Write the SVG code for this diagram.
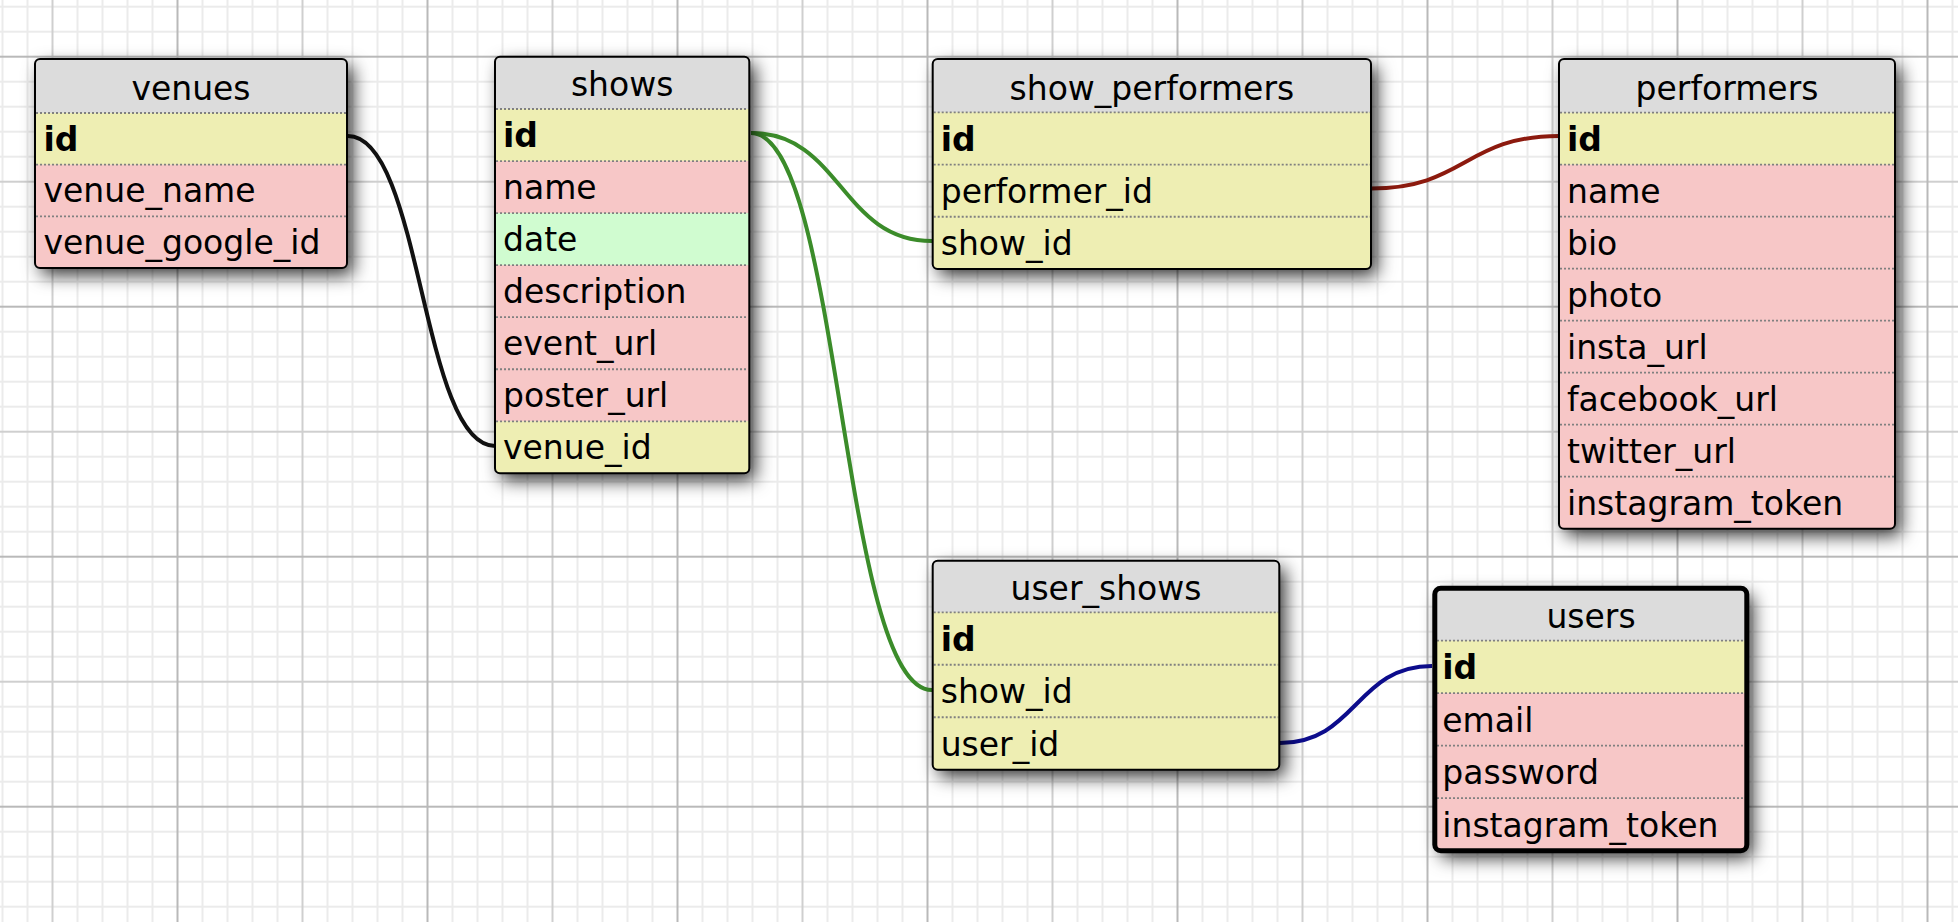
<svg xmlns="http://www.w3.org/2000/svg" width="1958" height="922" viewBox="0 0 1958 922">
<defs>
<pattern id="grid" patternUnits="userSpaceOnUse" x="176.5" y="55.7" width="250" height="250">
<g fill="#ebebeb">
<rect x="25" y="0" width="2" height="250"/><rect x="50" y="0" width="2" height="250"/><rect x="75" y="0" width="2" height="250"/><rect x="100" y="0" width="2" height="250"/><rect x="150" y="0" width="2" height="250"/><rect x="175" y="0" width="2" height="250"/><rect x="200" y="0" width="2" height="250"/><rect x="225" y="0" width="2" height="250"/>
<rect y="25" x="0" height="2" width="250"/><rect y="50" x="0" height="2" width="250"/><rect y="75" x="0" height="2" width="250"/><rect y="100" x="0" height="2" width="250"/><rect y="150" x="0" height="2" width="250"/><rect y="175" x="0" height="2" width="250"/><rect y="200" x="0" height="2" width="250"/><rect y="225" x="0" height="2" width="250"/>
</g>
<g fill="#cfcfcf"><rect x="125" y="0" width="2" height="250"/><rect y="125" x="0" height="2" width="250"/></g>
<g fill="#b9b9b9"><rect x="0" y="0" width="2" height="250"/><rect y="0" x="0" height="2" width="250"/></g>
</pattern>
<filter id="shadow" x="-10%" y="-10%" width="140%" height="140%">
<feDropShadow dx="6" dy="7" stdDeviation="9" flood-color="#000" flood-opacity="0.8"/>
</filter>
<clipPath id="c-venues"><rect x="35" y="59" width="312" height="209.1" rx="5"/></clipPath>
<clipPath id="c-shows"><rect x="495" y="56.7" width="254.3" height="416.65" rx="5"/></clipPath>
<clipPath id="c-sp"><rect x="932.7" y="59" width="438.3" height="210" rx="5"/></clipPath>
<clipPath id="c-perf"><rect x="1559" y="59" width="336" height="469.7" rx="5"/></clipPath>
<clipPath id="c-us"><rect x="932.7" y="560.7" width="346.6" height="209" rx="5"/></clipPath>
<clipPath id="c-users"><rect x="1434.8" y="588.2" width="312" height="262.6" rx="6"/></clipPath>
</defs>
<style>
.bg{fill:#ffffff}
.pk{fill:#eeeeb3}
.tx{fill:#f7c7c7}
.dt{fill:#d0fcd0}
.sep{stroke:#808080;stroke-width:1.8;stroke-dasharray:2 2;fill:none}
.frame{fill:none;stroke:#000;stroke-width:2}
.frame2{fill:none;stroke:#000;stroke-width:5}
.base{fill:#dcdcdc;filter:url(#shadow)}
text{font-family:"DejaVu Sans","Verdana",sans-serif;font-size:33px;fill:#000}
.title{text-anchor:middle}
.b{font-weight:bold}
.link{fill:none;stroke-width:4}
</style>
<rect class="bg" x="0" y="0" width="1958" height="922"/>
<rect x="0" y="0" width="1958" height="922" fill="url(#grid)"/>

<g id="connectors">
<path class="link" stroke="#111111" d="M348,136 C421.5,136 421.5,446 495,446"/>
<path class="link" stroke="#3b8c2a" d="M751,133 C841,133 841,241 932,241"/>
<path class="link" stroke="#3b8c2a" d="M751,133 C841,133 841,690 932,690"/>
<path class="link" stroke="#8c1a0e" d="M1371,188.5 C1465,188.5 1465,136 1559,136"/>
<path class="link" stroke="#0c0c8c" d="M1280,743 C1356,743 1356,666 1432,666"/>
</g>

<g id="venues">
<rect class="base" x="35" y="59" width="312" height="209.1" rx="5"/>
<g clip-path="url(#c-venues)">
<rect class="pk" x="35" y="113" width="312" height="51.7"/>
<rect class="tx" x="35" y="164.7" width="312" height="103.4"/>
</g>
<path class="sep" d="M36,113H346M36,164.7H346M36,216.4H346"/>
<rect class="frame" x="35" y="59" width="312" height="209.1" rx="5"/>
<text class="title" x="191" y="99.5">venues</text>
<text class="b" x="43.5" y="150.7">id</text>
<text x="43.5" y="202.4">venue_name</text>
<text x="43.5" y="254.1">venue_google_id</text>
</g>

<g id="shows">
<rect class="base" x="495" y="56.7" width="254.3" height="416.65" rx="5"/>
<g clip-path="url(#c-shows)">
<rect class="pk" x="495" y="109" width="254.3" height="52.05"/>
<rect class="tx" x="495" y="161.05" width="254.3" height="52.05"/>
<rect class="dt" x="495" y="213.1" width="254.3" height="52.05"/>
<rect class="tx" x="495" y="265.15" width="254.3" height="156.15"/>
<rect class="pk" x="495" y="421.3" width="254.3" height="52.05"/>
</g>
<path class="sep" d="M496,109H748M496,161.05H748M496,213.1H748M496,265.15H748M496,317.2H748M496,369.25H748M496,421.3H748"/>
<rect class="frame" x="495" y="56.7" width="254.3" height="416.65" rx="5"/>
<text class="title" x="622.15" y="95.5">shows</text>
<text class="b" x="503" y="147.05">id</text>
<text x="503" y="199.1">name</text>
<text x="503" y="251.15">date</text>
<text x="503" y="303.2">description</text>
<text x="503" y="355.25">event_url</text>
<text x="503" y="407.3">poster_url</text>
<text x="503" y="459.35">venue_id</text>
</g>

<g id="show_performers">
<rect class="base" x="932.7" y="59" width="438.3" height="210" rx="5"/>
<g clip-path="url(#c-sp)">
<rect class="pk" x="932.7" y="112.3" width="438.3" height="156.7"/>
</g>
<path class="sep" d="M933.7,112.3H1370M933.7,164.53H1370M933.7,216.77H1370"/>
<rect class="frame" x="932.7" y="59" width="438.3" height="210" rx="5"/>
<text class="title" x="1151.85" y="99.8">show_performers</text>
<text class="b" x="940.7" y="150.5">id</text>
<text x="940.7" y="202.8">performer_id</text>
<text x="940.7" y="255">show_id</text>
</g>

<g id="performers">
<rect class="base" x="1559" y="59" width="336" height="469.7" rx="5"/>
<g clip-path="url(#c-perf)">
<rect class="pk" x="1559" y="112.7" width="336" height="52"/>
<rect class="tx" x="1559" y="164.7" width="336" height="364"/>
</g>
<path class="sep" d="M1560,112.7H1894M1560,164.7H1894M1560,216.7H1894M1560,268.7H1894M1560,320.7H1894M1560,372.7H1894M1560,424.7H1894M1560,476.7H1894"/>
<rect class="frame" x="1559" y="59" width="336" height="469.7" rx="5"/>
<text class="title" x="1727" y="100.2">performers</text>
<text class="b" x="1567" y="150.7">id</text>
<text x="1567" y="202.7">name</text>
<text x="1567" y="254.7">bio</text>
<text x="1567" y="306.7">photo</text>
<text x="1567" y="358.7">insta_url</text>
<text x="1567" y="410.7">facebook_url</text>
<text x="1567" y="462.7">twitter_url</text>
<text x="1567" y="514.7">instagram_token</text>
</g>

<g id="user_shows">
<rect class="base" x="932.7" y="560.7" width="346.6" height="209" rx="5"/>
<g clip-path="url(#c-us)">
<rect class="pk" x="932.7" y="612.3" width="346.6" height="157.4"/>
</g>
<path class="sep" d="M933.7,612.3H1278.3M933.7,664.77H1278.3M933.7,717.23H1278.3"/>
<rect class="frame" x="932.7" y="560.7" width="346.6" height="209" rx="5"/>
<text class="title" x="1106" y="599.8">user_shows</text>
<text class="b" x="940.7" y="650.8">id</text>
<text x="940.7" y="703.2">show_id</text>
<text x="940.7" y="755.7">user_id</text>
</g>

<g id="users">
<rect class="base" x="1434.8" y="588.2" width="312" height="262.6" rx="6"/>
<g clip-path="url(#c-users)">
<rect class="pk" x="1434.8" y="640.7" width="312" height="52.5"/>
<rect class="tx" x="1434.8" y="693.2" width="312" height="157.6"/>
</g>
<path class="sep" d="M1437,640.7H1745M1437,693.2H1745M1437,745.7H1745M1437,798.2H1745"/>
<rect class="frame2" x="1434.8" y="588.2" width="312" height="262.6" rx="6"/>
<text class="title" x="1591" y="627.7">users</text>
<text class="b" x="1442.3" y="679.2">id</text>
<text x="1442.3" y="731.7">email</text>
<text x="1442.3" y="784.2">password</text>
<text x="1442.3" y="836.7">instagram_token</text>
</g>
</svg>
